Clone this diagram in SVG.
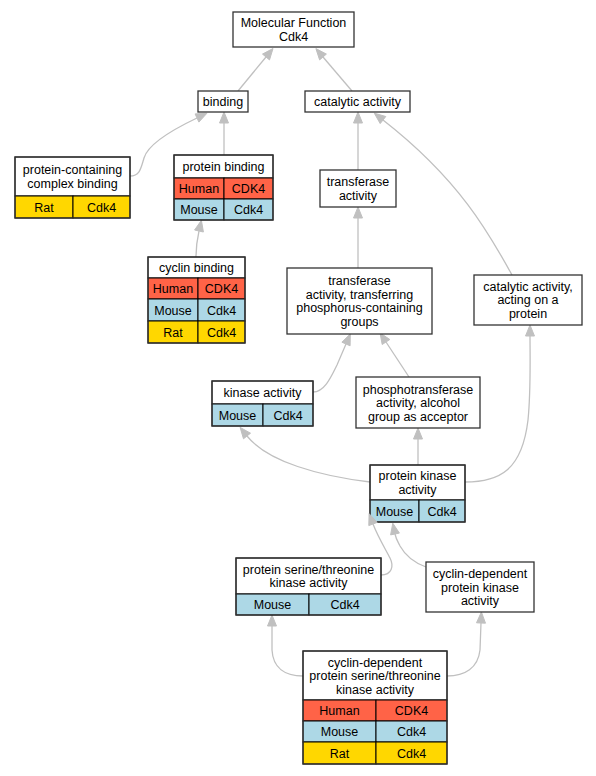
<svg xmlns="http://www.w3.org/2000/svg" width="596" height="776" viewBox="0 0 596 776">
<style>
text{font-family:"Liberation Sans",Arial,sans-serif;font-size:12.5px;fill:#000;text-anchor:middle}
.box{fill:#fff;stroke:#333;stroke-width:1.3}
.hd{fill:#fff;stroke:#000;stroke-width:1}
.hu{fill:#ff6347;stroke:#000;stroke-width:1}
.mo{fill:#add8e6;stroke:#000;stroke-width:1}
.ra{fill:#ffd700;stroke:#000;stroke-width:1}
.out{fill:none;stroke:#333;stroke-width:1.3}
.e{fill:none;stroke:#c0c0c0;stroke-width:1.3}
.ah{fill:#c0c0c0;stroke:#c0c0c0;stroke-width:1}
</style>
<rect width="596" height="776" fill="#fff"/>
<g id="edges">
<path class="e" d="M238,91 L266,57"/>
<polygon class="ah" points="273,48.5 269.5,59.9 262.5,54.1"/>
<path class="e" d="M352,91 L323,57"/>
<polygon class="ah" points="315.9,48.6 326.4,54.1 319.6,59.9"/>
<path class="e" d="M130,176 C140,176 141,168 144,158 C148,144 176,128 197,118"/>
<polygon class="ah" points="206.9,113.3 198.9,122.1 195.1,113.9"/>
<path class="e" d="M224,155 L224,123"/>
<polygon class="ah" points="224,112 228.5,123 219.5,123"/>
<path class="e" d="M358,170 L358,123"/>
<polygon class="ah" points="358,112 362.5,123 353.5,123"/>
<path class="e" d="M512,275 C490,235 460,180 383,120"/>
<polygon class="ah" points="374.3,113.2 385.8,116.5 380.2,123.6"/>
<path class="e" d="M196,257 C196,250 197,240 199,231"/>
<polygon class="ah" points="201.4,220.3 203.4,232 194.6,230"/>
<path class="e" d="M358,268 L358,218"/>
<polygon class="ah" points="358,207 362.5,218 353.5,218"/>
<path class="e" d="M313,392 C325,392 332,375 337,365 C340,358 343,351 346,344"/>
<polygon class="ah" points="350.3,333.9 350.1,345.8 341.9,342.2"/>
<path class="e" d="M409,377 L386,342"/>
<polygon class="ah" points="380,332.8 389.8,339.5 382.2,344.5"/>
<path class="e" d="M370,482 C320,476 268,462 247,436"/>
<polygon class="ah" points="240.1,427.4 250.5,433.2 243.5,438.8"/>
<path class="e" d="M418,465 L418,439"/>
<polygon class="ah" points="418,428 422.5,439 413.5,439"/>
<path class="e" d="M465,482 C500,482 522,470 528,420 C531,390 530,355 530,336"/>
<polygon class="ah" points="530,325 534.5,336 525.5,336"/>
<path class="e" d="M381,575 C392,575 394,566 390,558 C386,550 378,537 373,524"/>
<path class="e" d="M426,567 C415,563 405,555 400,546 C398,542 396,539 395,534"/>
<path class="e" d="M303,676 C285,676 273,668 272,650 L272,626"/>
<polygon class="ah" points="272,615 276.5,626 267.5,626"/>
<path class="e" d="M447,676 C465,676 478,668 480,650 L481,623"/>
<polygon class="ah" points="481.4,612 485.5,623.2 476.5,622.8"/>
</g>
<g id="n_mf">
<rect class="box" x="233" y="12" width="121" height="35"/>
<text x="293.5" y="27">Molecular Function</text>
<text x="293.5" y="40.5">Cdk4</text>
</g>
<g id="n_binding">
<rect class="box" x="198" y="91" width="50" height="21"/>
<text x="223" y="106">binding</text>
</g>
<g id="n_catalytic">
<rect class="box" x="305" y="91" width="105" height="21"/>
<text x="357.5" y="106">catalytic activity</text>
</g>
<g id="n_pcc">
<rect class="hd" x="15" y="157" width="115" height="39"/>
<rect class="ra" x="15" y="196" width="58" height="22"/>
<rect class="ra" x="73" y="196" width="57" height="22"/>
<rect class="out" x="15" y="157" width="115" height="61"/>
<text x="72.5" y="174">protein-containing</text>
<text x="72.5" y="187.5">complex binding</text>
<text x="44" y="211.5">Rat</text>
<text x="101.5" y="211.5">Cdk4</text>
</g>
<g id="n_pb">
<rect class="hd" x="174" y="155" width="99" height="23"/>
<rect class="hu" x="174" y="178" width="50" height="21"/>
<rect class="hu" x="224" y="178" width="49" height="21"/>
<rect class="mo" x="174" y="199" width="50" height="21"/>
<rect class="mo" x="224" y="199" width="49" height="21"/>
<rect class="out" x="174" y="155" width="99" height="65"/>
<text x="223.5" y="171">protein binding</text>
<text x="199" y="193">Human</text>
<text x="248.5" y="193">CDK4</text>
<text x="199" y="214">Mouse</text>
<text x="248.5" y="214">Cdk4</text>
</g>
<g id="n_transferase">
<rect class="box" x="320" y="170" width="76" height="37"/>
<text x="358" y="186">transferase</text>
<text x="358" y="199.5">activity</text>
</g>
<g id="n_cyclin">
<rect class="hd" x="148" y="257" width="97" height="21"/>
<rect class="hu" x="148" y="278" width="50" height="21"/>
<rect class="hu" x="198" y="278" width="47" height="21"/>
<rect class="mo" x="148" y="299" width="50" height="22"/>
<rect class="mo" x="198" y="299" width="47" height="22"/>
<rect class="ra" x="148" y="321" width="50" height="22"/>
<rect class="ra" x="198" y="321" width="47" height="22"/>
<rect class="out" x="148" y="257" width="97" height="86"/>
<text x="196.5" y="272">cyclin binding</text>
<text x="173" y="293">Human</text>
<text x="221.5" y="293">CDK4</text>
<text x="173" y="314.5">Mouse</text>
<text x="221.5" y="314.5">Cdk4</text>
<text x="173" y="336.5">Rat</text>
<text x="221.5" y="336.5">Cdk4</text>
</g>
<g id="n_transferring">
<rect class="box" x="287" y="268" width="145" height="66"/>
<text x="359.5" y="285">transferase</text>
<text x="359.5" y="298.5">activity, transferring</text>
<text x="359.5" y="312">phosphorus-containing</text>
<text x="359.5" y="325.5">groups</text>
</g>
<g id="n_caprotein">
<rect class="box" x="474" y="275" width="108" height="50"/>
<text x="528" y="290.5">catalytic activity,</text>
<text x="528" y="304">acting on a</text>
<text x="528" y="317.5">protein</text>
</g>
<g id="n_kinase">
<rect class="hd" x="212" y="381" width="101" height="23"/>
<rect class="mo" x="212" y="404" width="51" height="22"/>
<rect class="mo" x="263" y="404" width="50" height="22"/>
<rect class="out" x="212" y="381" width="101" height="45"/>
<text x="262.5" y="397">kinase activity</text>
<text x="237.5" y="419.5">Mouse</text>
<text x="288" y="419.5">Cdk4</text>
</g>
<g id="n_phospho">
<rect class="box" x="356" y="377" width="124" height="51"/>
<text x="418" y="393.5">phosphotransferase</text>
<text x="418" y="407">activity, alcohol</text>
<text x="418" y="420.5">group as acceptor</text>
</g>
<g id="n_pk">
<rect class="hd" x="370" y="465" width="95" height="35"/>
<rect class="mo" x="370" y="500" width="49" height="22"/>
<rect class="mo" x="419" y="500" width="46" height="22"/>
<rect class="out" x="370" y="465" width="95" height="57"/>
<text x="417.5" y="480">protein kinase</text>
<text x="417.5" y="493.5">activity</text>
<text x="394.5" y="515.5">Mouse</text>
<text x="442" y="515.5">Cdk4</text>
</g>
<g id="pk_arrows">
<polygon class="ah" points="369.1,513.7 377.2,522.4 368.8,525.6"/>
<polygon class="ah" points="392.8,523.2 399.4,533.1 390.6,534.9"/>
</g>
<g id="n_pst">
<rect class="hd" x="236" y="558" width="145" height="36"/>
<rect class="mo" x="236" y="594" width="73" height="21"/>
<rect class="mo" x="309" y="594" width="72" height="21"/>
<rect class="out" x="236" y="558" width="145" height="57"/>
<text x="308.5" y="573.5">protein serine/threonine</text>
<text x="308.5" y="587">kinase activity</text>
<text x="272.5" y="609">Mouse</text>
<text x="345" y="609">Cdk4</text>
</g>
<g id="n_cdpk">
<rect class="box" x="426" y="562" width="108" height="50"/>
<text x="480" y="578">cyclin-dependent</text>
<text x="480" y="591.5">protein kinase</text>
<text x="480" y="605">activity</text>
</g>
<g id="n_cdpst">
<rect class="hd" x="303" y="651" width="144" height="49"/>
<rect class="hu" x="303" y="700" width="73" height="21"/>
<rect class="hu" x="376" y="700" width="71" height="21"/>
<rect class="mo" x="303" y="721" width="73" height="21"/>
<rect class="mo" x="376" y="721" width="71" height="21"/>
<rect class="ra" x="303" y="742" width="73" height="22"/>
<rect class="ra" x="376" y="742" width="71" height="22"/>
<rect class="out" x="303" y="651" width="144" height="113"/>
<text x="375" y="666.5">cyclin-dependent</text>
<text x="375" y="680">protein serine/threonine</text>
<text x="375" y="693.5">kinase activity</text>
<text x="339.5" y="715">Human</text>
<text x="411.5" y="715">CDK4</text>
<text x="339.5" y="736">Mouse</text>
<text x="411.5" y="736">Cdk4</text>
<text x="339.5" y="757.5">Rat</text>
<text x="411.5" y="757.5">Cdk4</text>
</g>
</svg>
